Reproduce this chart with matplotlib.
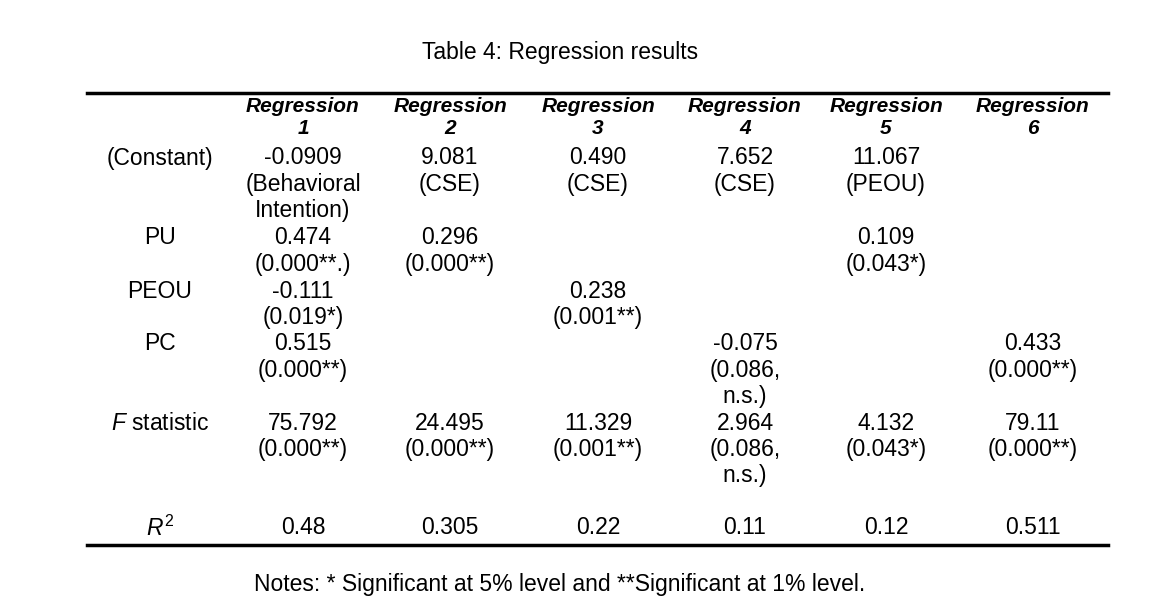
import matplotlib
matplotlib.use("Agg")
import matplotlib.pyplot as plt

title = "Table 4: Regression results"
notes = "Notes: * Significant at 5% level and **Significant at 1% level."
headers = ["Regression 1", "Regression 2", "Regression 3", "Regression 4", "Regression 5", "Regression 6"]
row_labels = ["(Constant)", "PU", "PEOU", "PC", "F statistic", "R2"]
constant = ["-0.0909\n(Behavioral\nIntention)", "9.081\n(CSE)", "0.490\n(CSE)", "7.652\n(CSE)", "11.067\n(PEOU)", ""]
pu = ["0.474\n(0.000**.)", "0.296\n(0.000**)", "", "", "0.109\n(0.043*)", ""]
peou = ["-0.111\n(0.019*)", "", "0.238\n(0.001**)", "", "", ""]
pc = ["0.515\n(0.000**)", "", "", "-0.075\n(0.086,\nn.s.)", "", "0.433\n(0.000**)"]
fstat = ["75.792\n(0.000**)", "24.495\n(0.000**)", "11.329\n(0.001**)", "2.964\n(0.086,\nn.s.)", "4.132\n(0.043*)", "79.11\n(0.000**)"]
r2 = ["0.48", "0.305", "0.22", "0.11", "0.12", "0.511"]

plt.rcParams["font.family"] = "Liberation Sans"
plt.rcParams["mathtext.fontset"] = "custom"
plt.rcParams["mathtext.it"] = "Liberation Sans:italic"
plt.rcParams["mathtext.rm"] = "Liberation Sans"
fig = plt.figure(figsize=(11.75, 6.07), dpi=100)
ax = fig.add_axes([0, 0, 1, 1])
ax.set_xlim(0, 1175); ax.set_ylim(607, 0); ax.axis("off")

fs = 16.5
hfs = 15
ax.text(560, 52, title, ha="center", va="center", fontsize=fs)
ax.plot([87, 1108], [93, 93], color="black", lw=2.5)
ax.plot([87, 1108], [545, 545], color="black", lw=2.5)

col_x = [303, 450, 598, 745, 886, 1033]
label_x = 160
for x, h in zip(col_x, headers):
    a, b = h.split(" ")
    ax.text(x, 107, a, ha="center", va="center", fontsize=hfs, fontweight="bold", style="italic")
    ax.text(x, 129, b, ha="center", va="center", fontsize=hfs, fontweight="bold", style="italic")

line_h = 26.2
row_tops = [158, 238, 291, 344, 423, 528]
rows = [constant, pu, peou, pc, fstat, r2]
labels_disp = ["(Constant)", "PU", "PEOU", "PC", "$\\it{F}$ statistic", "$\\it{R}^{2}$"]
for y0, lab, vals in zip(row_tops, labels_disp, rows):
    ax.text(label_x, y0, lab, ha="center", va="center", fontsize=fs)
    for x, v in zip(col_x, vals):
        for i, line in enumerate(v.split("\n")):
            if line:
                ax.text(x, y0 + i * line_h, line, ha="center", va="center", fontsize=fs)

ax.text(560, 585, notes, ha="center", va="center", fontsize=fs)
fig.savefig("out.png", dpi=100)
